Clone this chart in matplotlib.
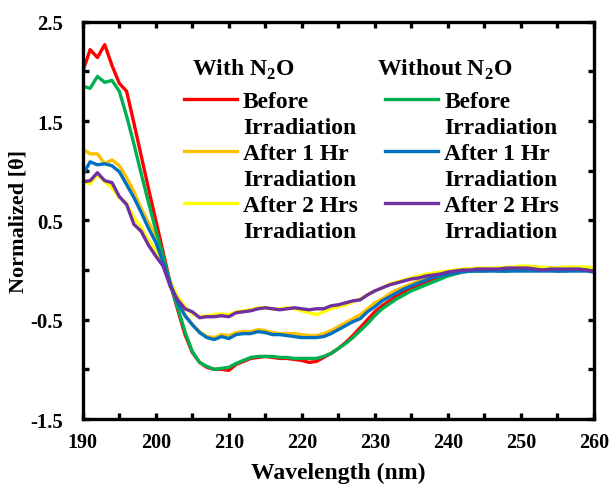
import numpy as np
import matplotlib
matplotlib.use("Agg")
import matplotlib.pyplot as plt
from matplotlib.lines import Line2D
from matplotlib.ticker import MultipleLocator, FixedLocator

plt.rcParams['font.family'] = ['Liberation Serif', 'DejaVu Serif']
plt.rcParams['font.weight'] = 'bold'
plt.rcParams['mathtext.fontset'] = 'custom'
plt.rcParams['mathtext.rm'] = 'Liberation Serif:bold'

# wavelength grid (nm)
wavelength = np.arange(190, 261, 1)

# with N2O
with_before = [2.00, 2.22, 2.14, 2.27, 2.06, 1.88, 1.80, 1.48, 1.15, 0.82, 0.50, 0.18, -0.14, -0.40, -0.65,
               -0.83, -0.93, -0.98, -1.00, -1.00, -1.01, -0.95, -0.92, -0.89, -0.88, -0.87, -0.88, -0.89,
               -0.89, -0.90, -0.91, -0.93, -0.92, -0.88, -0.84, -0.79, -0.73, -0.66, -0.58, -0.50, -0.42,
               -0.36, -0.31, -0.26, -0.22, -0.18, -0.15, -0.12, -0.09, -0.07, -0.05, -0.03, -0.01, 0.00,
               0.00, 0.01, 0.01, 0.01, 0.02, 0.02, 0.02, 0.03, 0.03, 0.02, 0.02, 0.01, 0.02, 0.02, 0.02,
               0.01, 0.00]
with_1hr = [1.22, 1.17, 1.17, 1.07, 1.11, 1.05, 0.93, 0.79, 0.62, 0.48, 0.33, 0.10, -0.12, -0.30, -0.45,
            -0.55, -0.62, -0.67, -0.68, -0.65, -0.66, -0.63, -0.62, -0.62, -0.60, -0.61, -0.63, -0.64,
            -0.64, -0.64, -0.65, -0.66, -0.66, -0.64, -0.61, -0.57, -0.53, -0.49, -0.45, -0.39, -0.33,
            -0.29, -0.24, -0.20, -0.17, -0.14, -0.11, -0.08, -0.06, -0.04, -0.02, -0.01, 0.00, 0.01,
            0.01, 0.01, 0.01, 0.02, 0.02, 0.02, 0.03, 0.03, 0.03, 0.02, 0.02, 0.02, 0.02, 0.03, 0.02,
            0.02, 0.01]
with_2hr = [0.89, 0.87, 0.96, 0.89, 0.83, 0.73, 0.67, 0.53, 0.43, 0.30, 0.20, 0.06, -0.12, -0.27, -0.37,
            -0.44, -0.47, -0.46, -0.45, -0.44, -0.45, -0.42, -0.41, -0.40, -0.38, -0.38, -0.39, -0.39,
            -0.38, -0.39, -0.41, -0.43, -0.45, -0.42, -0.39, -0.37, -0.35, -0.32, -0.29, -0.25, -0.21,
            -0.18, -0.14, -0.12, -0.10, -0.08, -0.06, -0.04, -0.03, -0.02, -0.01, 0.00, 0.01, 0.01,
            0.02, 0.02, 0.02, 0.02, 0.03, 0.03, 0.04, 0.04, 0.03, 0.03, 0.02, 0.02, 0.03, 0.03, 0.03,
            0.03, 0.02]

# without N2O
without_before = [1.85, 1.83, 1.95, 1.89, 1.91, 1.80, 1.55, 1.27, 0.97, 0.68, 0.40, 0.14, -0.14, -0.38,
                  -0.62, -0.82, -0.93, -0.97, -1.00, -0.99, -0.98, -0.94, -0.91, -0.88, -0.87, -0.87,
                  -0.87, -0.88, -0.88, -0.89, -0.89, -0.89, -0.89, -0.87, -0.84, -0.79, -0.74, -0.68,
                  -0.61, -0.54, -0.46, -0.39, -0.34, -0.29, -0.25, -0.21, -0.18, -0.15, -0.12, -0.09,
                  -0.06, -0.04, -0.02, -0.01, -0.01, -0.01, 0.00, -0.01, -0.01, 0.00, 0.00, 0.00, 0.00,
                  0.00, 0.00, -0.01, -0.01, 0.00, 0.00, 0.00, -0.01]
without_1hr = [0.96, 1.09, 1.06, 1.07, 1.05, 0.99, 0.86, 0.73, 0.58, 0.42, 0.28, 0.08, -0.14, -0.33,
               -0.46, -0.55, -0.63, -0.68, -0.70, -0.67, -0.69, -0.65, -0.64, -0.64, -0.62, -0.63,
               -0.65, -0.65, -0.66, -0.67, -0.68, -0.68, -0.68, -0.67, -0.64, -0.60, -0.56, -0.52,
               -0.49, -0.42, -0.37, -0.31, -0.27, -0.23, -0.19, -0.16, -0.13, -0.10, -0.07, -0.06,
               -0.04, -0.03, -0.02, -0.01, -0.01, -0.01, -0.01, -0.01, -0.01, -0.01, -0.01, -0.01,
               -0.01, -0.01, -0.01, -0.01, -0.01, -0.01, -0.01, -0.01, -0.02]
without_2hr = [0.89, 0.90, 0.98, 0.90, 0.88, 0.74, 0.66, 0.46, 0.39, 0.25, 0.14, 0.04, -0.17, -0.30,
               -0.39, -0.42, -0.48, -0.47, -0.47, -0.46, -0.47, -0.43, -0.42, -0.41, -0.39, -0.38,
               -0.39, -0.40, -0.39, -0.38, -0.39, -0.40, -0.39, -0.39, -0.36, -0.35, -0.33, -0.31,
               -0.30, -0.25, -0.21, -0.18, -0.15, -0.13, -0.11, -0.09, -0.08, -0.06, -0.05, -0.04,
               -0.02, -0.01, 0.00, 0.00, 0.01, 0.01, 0.01, 0.01, 0.02, 0.02, 0.02, 0.02, 0.01, 0.00,
               0.01, 0.01, 0.01, 0.01, 0.01, 0.00, -0.01]

labels = ["Before", "After 1 Hr", "After 2 Hrs"]
with_colours = ["#FF0000", "#FFC000", "#FFFF00"]
without_colours = ["#00B050", "#0070C0", "#7030A0"]

fig = plt.figure(figsize=(6.09, 4.85), dpi=100)
ax = fig.add_axes([0.136, 0.134, 0.839, 0.819])

lw = 2.4
for series, col in zip([with_before, with_1hr, with_2hr], with_colours):
    ax.plot(wavelength, series, color=col, lw=lw)
for series, col in zip([without_before, without_1hr, without_2hr], without_colours):
    ax.plot(wavelength, series, color=col, lw=lw)

ax.set_xlim(190, 260)
ax.set_ylim(-1.5, 2.5)
ax.xaxis.set_major_locator(MultipleLocator(10))
ax.xaxis.set_minor_locator(MultipleLocator(5))
ax.yaxis.set_major_locator(FixedLocator([-1.5, -0.5, 0.5, 1.5, 2.5]))
ax.yaxis.set_minor_locator(FixedLocator([-1.0, 0.0, 1.0, 2.0]))
ax.set_yticklabels(["-1.5", "-0.5", "0.5", "1.5", "2.5"])

for s in ax.spines.values():
    s.set_linewidth(2.4)
ax.tick_params(which="both", direction="in", top=True, right=True, width=2.4, length=4.5)
ax.tick_params(axis="x", pad=9, labelsize=14.5)
ax.tick_params(axis="y", pad=14, labelsize=15)

ax.set_xlabel("Wavelength (nm)", fontsize=17, fontweight="bold", labelpad=7.5)
ax.set_ylabel("Normalized [θ]", fontsize=16, fontweight="bold", labelpad=1.5)


def make_legend(colours, x):
    handles = []
    texts = []
    for lab, col in zip(labels, colours):
        handles.append(Line2D([], [], color=col, lw=lw))
        texts.append(lab)
        handles.append(Line2D([], [], color="none"))
        texts.append("Irradiation")
    leg = ax.legend(handles, texts, loc="upper left", bbox_to_anchor=(x, 0.827), frameon=False,
                    fontsize=17, handlelength=2.25, handletextpad=0.25, labelspacing=0.19,
                    borderpad=0, borderaxespad=0)
    return leg


leg1 = make_legend(with_colours, 0.198)
ax.add_artist(leg1)
make_legend(without_colours, 0.592)

ax.text(0.213, 0.866, "With N$_2$O", transform=ax.transAxes, fontsize=17, fontweight="bold", va="baseline")
ax.text(0.575, 0.866, "Without N$_2$O", transform=ax.transAxes, fontsize=17, fontweight="bold", va="baseline")

plt.savefig("out.png", dpi=100)
